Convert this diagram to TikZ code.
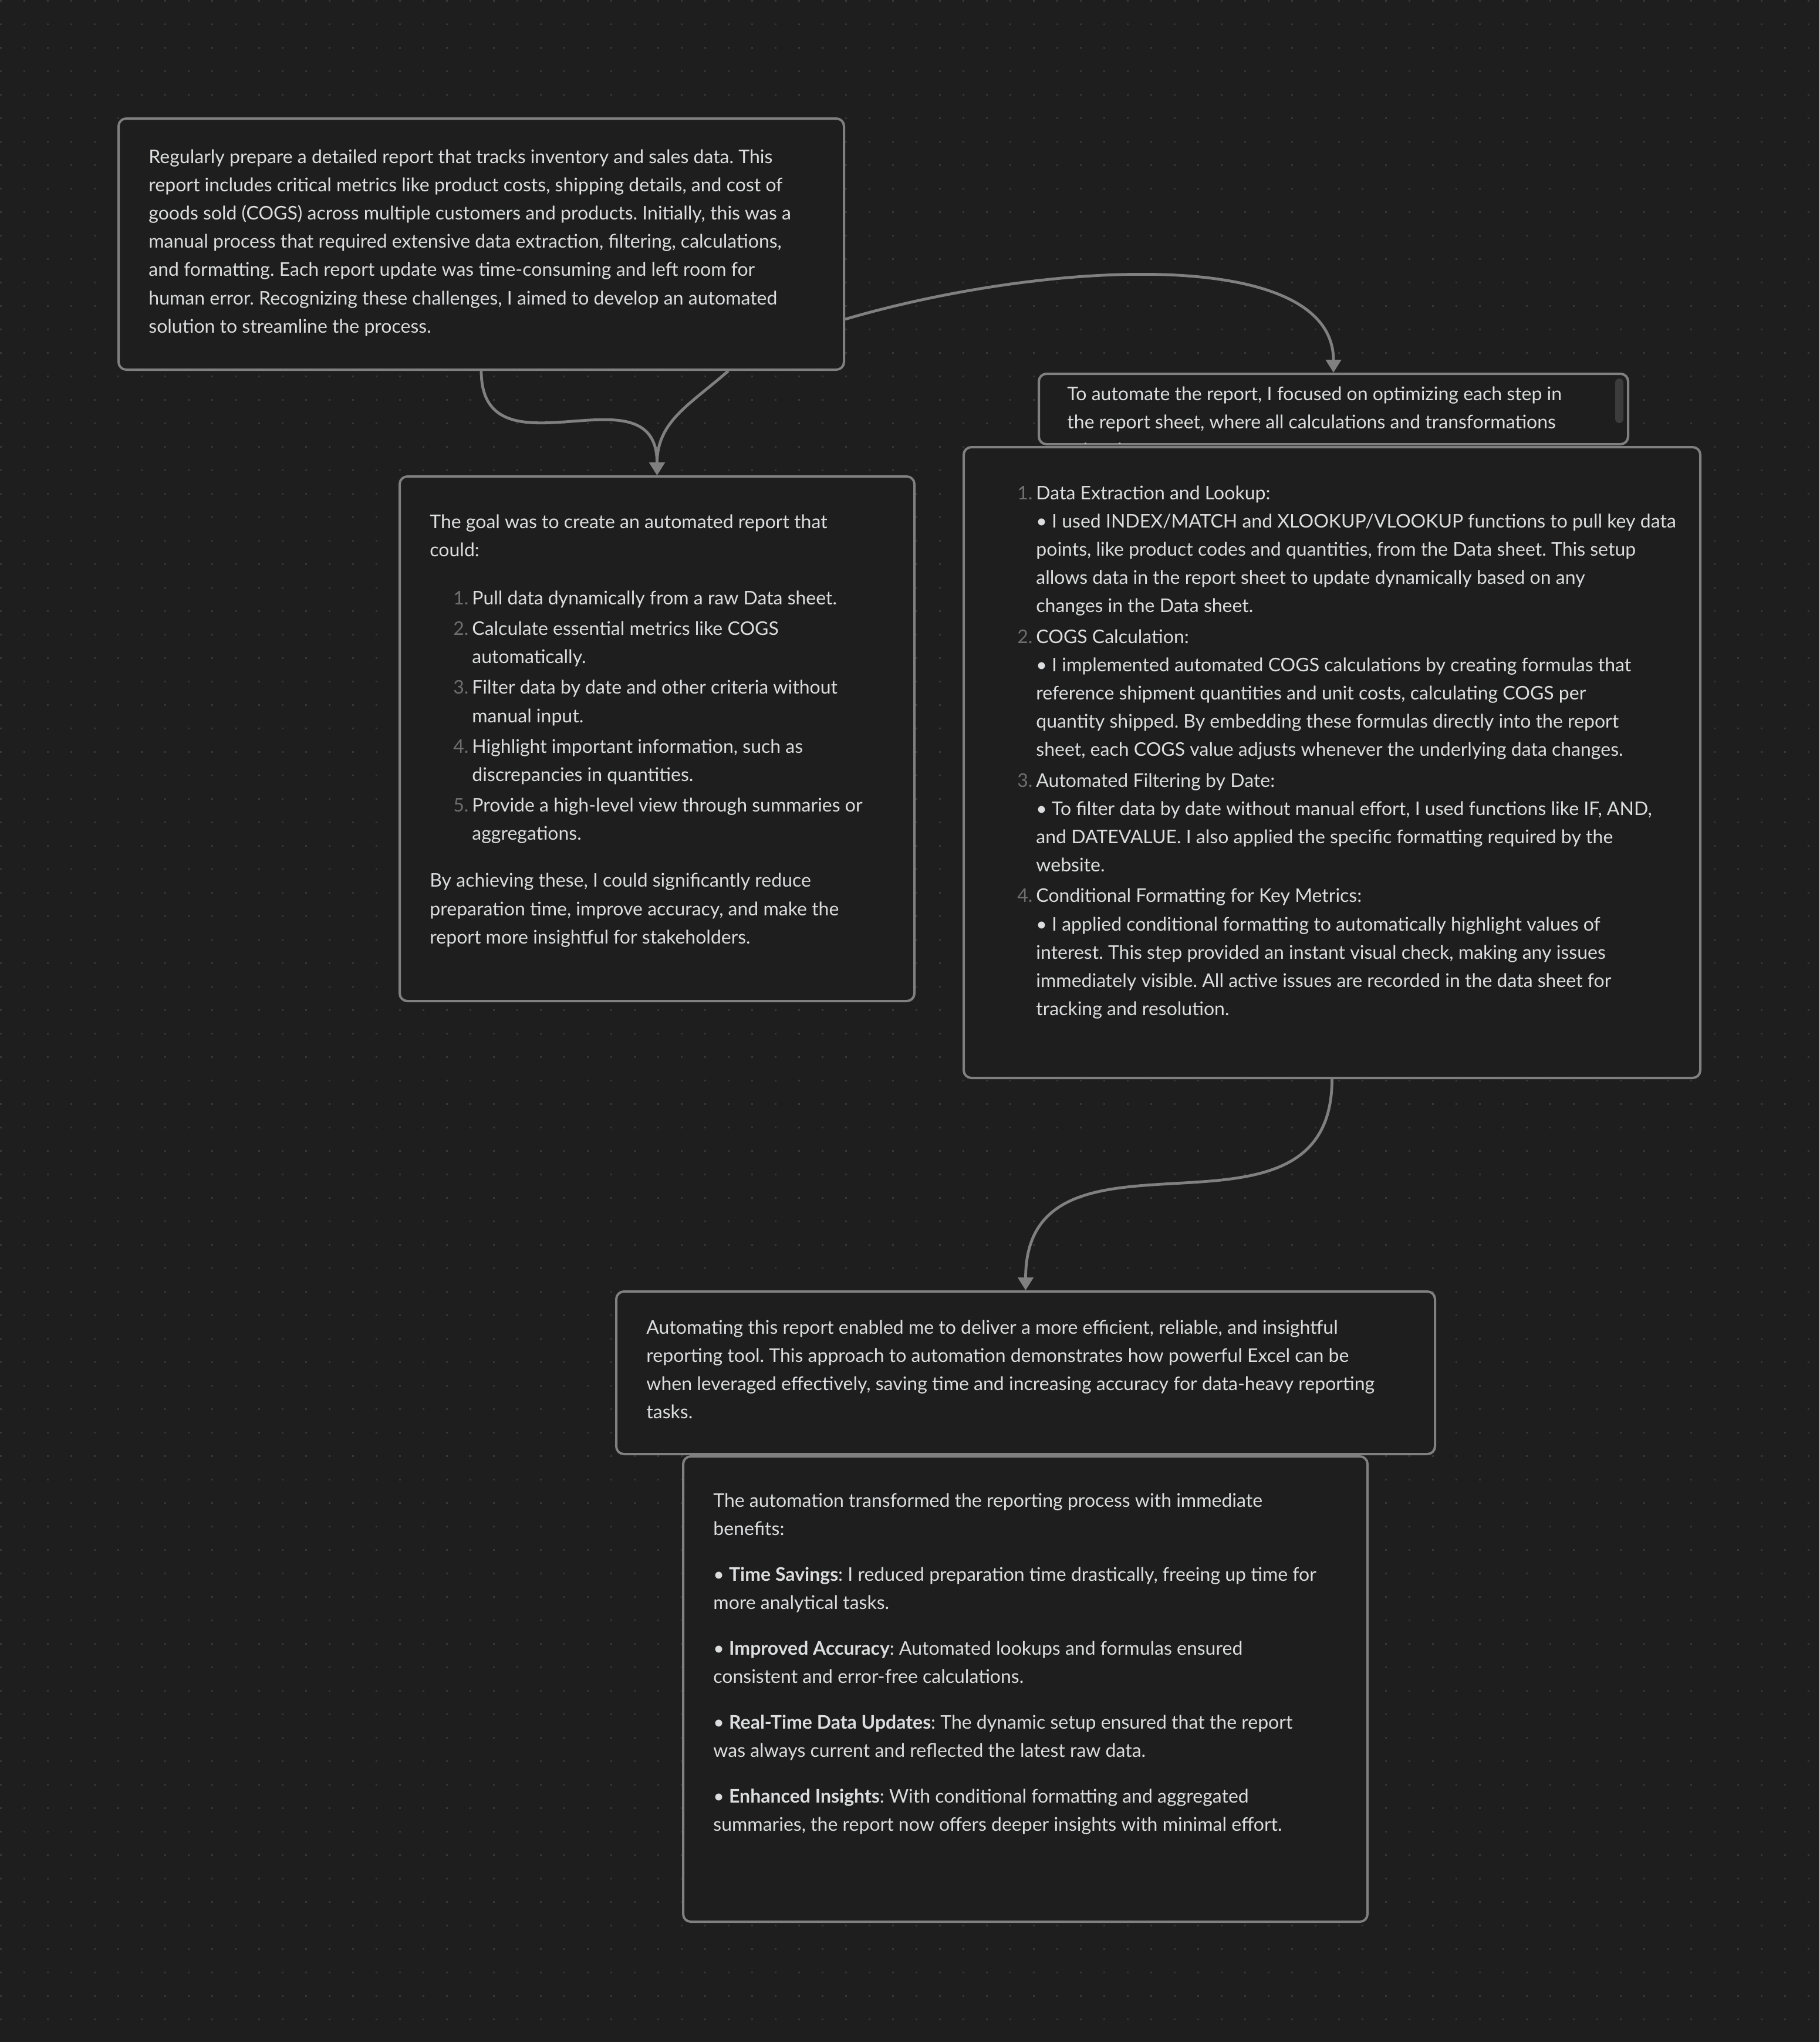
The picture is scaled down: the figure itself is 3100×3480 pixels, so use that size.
\documentclass[tikz,border=0pt]{standalone}
\usepackage{fontspec}
\setmainfont{Lato}
\usetikzlibrary{arrows.meta,calc}
\definecolor{bgc}{HTML}{1E1E1E}
\definecolor{dotc}{HTML}{363636}
\definecolor{edgec}{HTML}{808080}
\definecolor{txtc}{HTML}{DCDDDE}
\definecolor{mutedc}{HTML}{6E6E6E}
\definecolor{scrollc}{HTML}{3C3C3C}
\newcommand\lnum[1]{\llap{\textcolor{mutedc}{#1}\hspace{3pt}}}
\newcommand\ind{\hspace*{36pt}}
\frenchspacing
\begin{document}
\begin{tikzpicture}[x=0.5pt,y=-0.5pt,
  box/.style={draw=edgec, line width=2pt, fill=bgc, rounded corners=6.5pt, rectangle, inner sep=0pt},
  txt/.style={text=txtc, font=\frenchspacing\fontsize{16}{24.1}\selectfont, inner sep=0pt, anchor=base west},
  conn/.style={draw=edgec, line width=2.4pt, -{Triangle[length=11pt,width=13pt]}}]
\useasboundingbox (0,0) rectangle (3100,3480);
\fill[bgc] (0,0) rectangle (3100,3480);
\foreach \j in {0,...,86}{
  \draw[dotc, line width=1.5pt, dash pattern=on 1.5pt off 18.5pt] (0,{1.5+40*\j}) -- (3100,{1.5+40*\j});
}
% boxes
\node[box, minimum width=618pt, minimum height=214pt] (A) at (820,416) {};
\node[box, minimum width=438.5pt, minimum height=447pt] (B) at (1119.5,1259) {};
\node[box, minimum width=502pt, minimum height=60pt] (C) at (2272,697) {};
\node[box, minimum width=627.5pt, minimum height=537.5pt] (D) at (2269.5,1299.5) {};
\node[box, minimum width=697.5pt, minimum height=138.5pt] (E) at (1747.5,2339.5) {};
\node[box, minimum width=583pt, minimum height=396.5pt] (F) at (1747,2878.5) {};
% connectors
\draw[conn] (A.south) .. controls +(0,190) and +(0,-190) .. (B.north);
\draw[conn] ($(A.south)+(421,0)$) .. controls +(-66,58) and +(0,-92) .. (B.north);
\draw[conn] ($(A.south east)+(0,-88)$) .. controls +(341,-100) and +(0,-217) .. (C.north);
\draw[conn] (D.south) .. controls +(0,320) and +(0,-320) .. (E.north);
% scrollbar
\fill[scrollc, rounded corners=3.5pt] (2752,645) rectangle (2766,721);
% texts
\node[txt] (At) at (253,278) {\begin{tabular}[t]{@{}l@{}}
Regularly prepare a detailed report that tracks inventory and sales data. This\\
report includes critical metrics like product costs, shipping details, and cost of\\
goods sold (COGS) across multiple customers and products. Initially, this was a\\
manual process that required extensive data extraction, filtering, calculations,\\
and formatting. Each report update was time-consuming and left room for\\
human error. Recognizing these challenges, I aimed to develop an automated\\
solution to streamline the process.
\end{tabular}};
\node[txt] (Bt) at (732,900) {\begin{tabular}[t]{@{}l@{}}
The goal was to create an automated report that\\
could:\\[16.9pt]
\ind\lnum{1.}Pull data dynamically from a raw Data sheet.\\[2pt]
\ind\lnum{2.}Calculate essential metrics like COGS\\
\ind automatically.\\[2pt]
\ind\lnum{3.}Filter data by date and other criteria without\\
\ind manual input.\\[2pt]
\ind\lnum{4.}Highlight important information, such as\\
\ind discrepancies in quantities.\\[2pt]
\ind\lnum{5.}Provide a high-level view through summaries or\\
\ind aggregations.\\[15.9pt]
By achieving these, I could significantly reduce\\
preparation time, improve accuracy, and make the\\
report more insightful for stakeholders.
\end{tabular}};
\begin{scope}
\clip[rounded corners=5.5pt] ($(C.south west)+(4,-4)$) rectangle ($(C.north east)+(-4,4)$);
\node[txt] (Ct) at (1818,682) {\begin{tabular}[t]{@{}l@{}}
To automate the report, I focused on optimizing each step in\\
the report sheet, where all calculations and transformations\\
take place.
\end{tabular}};
\end{scope}
\node[txt] (Dt) at (1765,851) {\begin{tabular}[t]{@{}l@{}}
\lnum{1.}Data Extraction and Lookup:\\
• I used INDEX/MATCH and XLOOKUP/VLOOKUP functions to pull key data\\
points, like product codes and quantities, from the Data sheet. This setup\\
allows data in the report sheet to update dynamically based on any\\
changes in the Data sheet.\\[2pt]
\lnum{2.}COGS Calculation:\\
• I implemented automated COGS calculations by creating formulas that\\
reference shipment quantities and unit costs, calculating COGS per\\
quantity shipped. By embedding these formulas directly into the report\\
sheet, each COGS value adjusts whenever the underlying data changes.\\[2pt]
\lnum{3.}Automated Filtering by Date:\\
• To filter data by date without manual effort, I used functions like IF, AND,\\
and DATEVALUE. I also applied the specific formatting required by the\\
website.\\[2pt]
\lnum{4.}Conditional Formatting for Key Metrics:\\
• I applied conditional formatting to automatically highlight values of\\
interest. This step provided an instant visual check, making any issues\\
immediately visible. All active issues are recorded in the data sheet for\\
tracking and resolution.
\end{tabular}};
\node[txt] (Et) at (1101,2273) {\begin{tabular}[t]{@{}l@{}}
Automating this report enabled me to deliver a more efficient, reliable, and insightful\\
reporting tool. This approach to automation demonstrates how powerful Excel can be\\
when leveraged effectively, saving time and increasing accuracy for data-heavy reporting\\
tasks.
\end{tabular}};
\node[txt] (Ft) at (1215,2568) {\begin{tabular}[t]{@{}l@{}}
The automation transformed the reporting process with immediate\\
benefits:\\[14.8pt]
• \textbf{Time Savings}: I reduced preparation time drastically, freeing up time for\\
more analytical tasks.\\[14.8pt]
• \textbf{Improved Accuracy}: Automated lookups and formulas ensured\\
consistent and error-free calculations.\\[14.8pt]
• \textbf{Real-Time Data Updates}: The dynamic setup ensured that the report\\
was always current and reflected the latest raw data.\\[14.8pt]
• \textbf{Enhanced Insights}: With conditional formatting and aggregated\\
summaries, the report now offers deeper insights with minimal effort.
\end{tabular}};
\end{tikzpicture}
\end{document}
